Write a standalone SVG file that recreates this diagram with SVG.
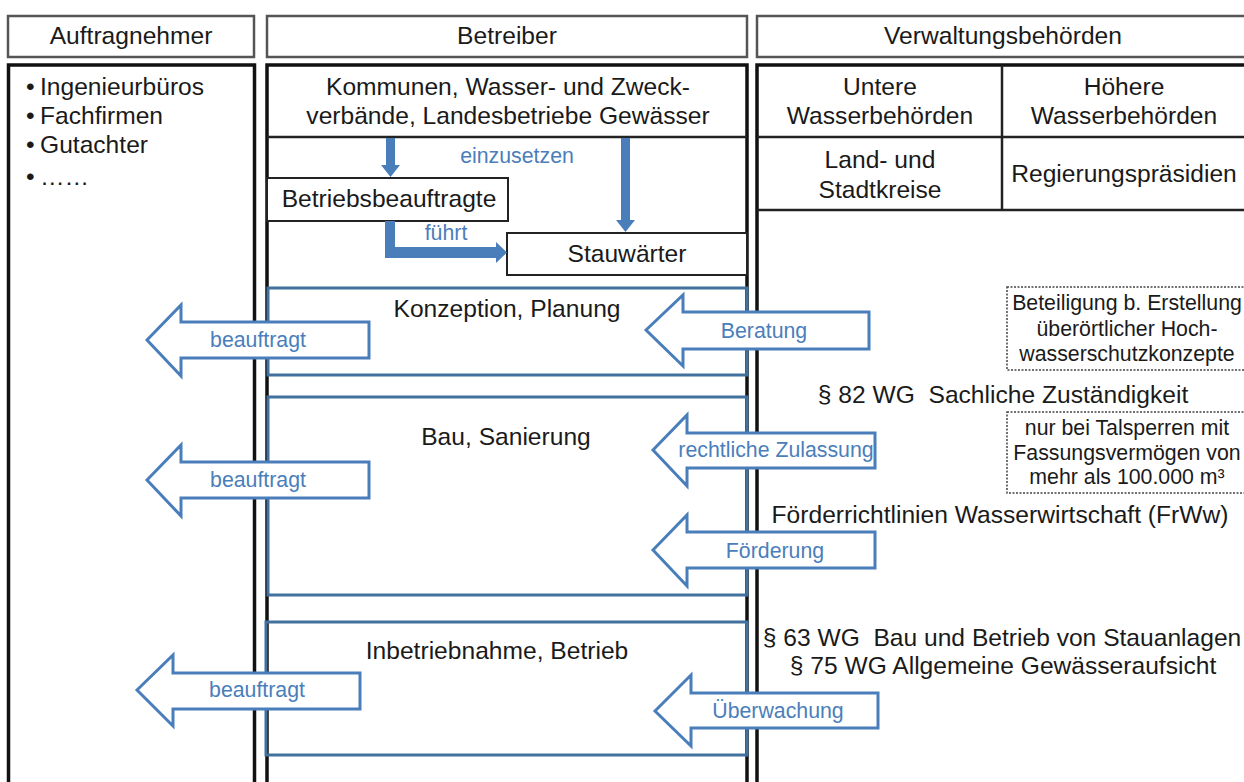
<svg xmlns="http://www.w3.org/2000/svg" width="1244" height="782" viewBox="0 0 1244 782">
<defs>
<style>
text{font-family:"Liberation Sans",Arial,Helvetica,sans-serif;fill:#1a1a1a;}
.t24{font-size:24.6px;}
.t21{font-size:21.3px;}
.mid{text-anchor:middle;}
.blue{fill:#4a7ebb;}
.hdr{fill:#fff;stroke:#555;stroke-width:2.5;}
.col{fill:#fff;stroke:#111;stroke-width:3.5;}
.line{stroke:#222;stroke-width:2.5;fill:none;}
.inner{fill:#fff;stroke:#222;stroke-width:2;}
.phase{fill:none;stroke:#41719c;stroke-width:3;}
.blk{fill:#fff;stroke:#4a7ebb;stroke-width:3;stroke-linejoin:miter;}
.thick{fill:#4a7ebb;stroke:none;}
.dash{fill:#fff;stroke:#444;stroke-width:1.5;stroke-dasharray:2 1.5;}
</style>
</defs>
<rect x="0" y="0" width="1244" height="782" fill="#fff"/>

<g id="header-auftragnehmer">
<rect class="hdr" x="8" y="16" width="246" height="41"/>
<text class="t24 mid" x="131" y="44">Auftragnehmer</text>
</g>
<g id="header-betreiber">
<rect class="hdr" x="267" y="16" width="480" height="41"/>
<text class="t24 mid" x="507" y="44">Betreiber</text>
</g>
<g id="header-verwaltung">
<rect class="hdr" x="757" y="16" width="500" height="41"/>
<text class="t24 mid" x="1003" y="44">Verwaltungsbehörden</text>
</g>

<g id="col-auftragnehmer">
<rect class="col" x="8.5" y="65" width="246" height="740"/>
<text class="t24" y="95"><tspan x="26">•</tspan><tspan x="40">Ingenieurbüros</tspan></text>
<text class="t24" y="124"><tspan x="26">•</tspan><tspan x="40">Fachfirmen</tspan></text>
<text class="t24" y="153"><tspan x="26">•</tspan><tspan x="40">Gutachter</tspan></text>
<text class="t24" y="185"><tspan x="26">•</tspan><tspan x="40">……</tspan></text>
</g>

<g id="col-betreiber">
<rect class="col" x="267" y="65" width="480" height="740"/>
<line class="line" x1="267" y1="137" x2="747" y2="137"/>
<text class="t24 mid" x="508" y="95">Kommunen, Wasser- und Zweck-</text>
<text class="t24 mid" x="508" y="124">verbände, Landesbetriebe Gewässer</text>
</g>

<g id="col-verwaltung">
<rect class="col" x="757" y="65" width="500" height="740"/>
<line class="line" x1="1002" y1="65" x2="1002" y2="210"/>
<line class="line" x1="757" y1="137" x2="1244" y2="137"/>
<line class="line" x1="757" y1="210" x2="1244" y2="210"/>
</g>

<g id="untere-wasserbehoerden">
<text class="t24 mid" x="880" y="95">Untere</text>
<text class="t24 mid" x="880" y="124">Wasserbehörden</text>
</g>
<g id="hoehere-wasserbehoerden">
<text class="t24 mid" x="1124" y="95">Höhere</text>
<text class="t24 mid" x="1124" y="124">Wasserbehörden</text>
</g>
<g id="land-stadtkreise">
<text class="t24 mid" x="880" y="168">Land- und</text>
<text class="t24 mid" x="880" y="198">Stadtkreise</text>
</g>
<g id="regierungspraesidien">
<text class="t24 mid" x="1124" y="182">Regierungspräsidien</text>
</g>

<g id="betriebsbeauftragte">
<rect class="inner" x="267" y="178" width="241" height="43"/>
<text class="t24 mid" x="389" y="207">Betriebsbeauftragte</text>
</g>
<g id="stauwaerter">
<rect class="inner" x="507" y="233" width="240" height="42"/>
<text class="t24 mid" x="627" y="262">Stauwärter</text>
</g>

<g id="phase-konzeption">
<rect class="phase" x="268" y="288" width="479" height="87"/>
<text class="t24 mid" x="507" y="317">Konzeption, Planung</text>
</g>
<g id="phase-bau">
<rect class="phase" x="268" y="397" width="479" height="198"/>
<text class="t24 mid" x="506" y="445">Bau, Sanierung</text>
</g>
<g id="phase-betrieb">
<rect class="phase" x="266" y="622" width="481" height="133"/>
<text class="t24 mid" x="497" y="659">Inbetriebnahme, Betrieb</text>
</g>

<g id="note-hochwasser">
<rect class="dash" x="1007" y="287" width="245" height="83"/>
<text class="t21 mid" x="1127" y="310">Beteiligung b. Erstellung</text>
<text class="t21 mid" x="1127" y="336">überörtlicher Hoch-</text>
<text class="t21 mid" x="1127" y="361">wasserschutzkonzepte</text>
</g>
<g id="law-82">
<text class="t24 mid" x="1003" y="403">§ 82 WG&#160; Sachliche Zuständigkeit</text>
</g>
<g id="note-talsperren">
<rect class="dash" x="1007" y="412" width="245" height="81"/>
<text class="t21 mid" x="1127" y="435">nur bei Talsperren mit</text>
<text class="t21 mid" x="1127" y="460">Fassungsvermögen von</text>
<text class="t21 mid" x="1127" y="484">mehr als 100.000 m³</text>
</g>
<g id="law-frww">
<text class="t24 mid" x="1000" y="523">Förderrichtlinien Wasserwirtschaft (FrWw)</text>
</g>
<g id="law-63-75">
<text class="t24 mid" x="1002" y="646">§ 63 WG&#160; Bau und Betrieb von Stauanlagen</text>
<text class="t24 mid" x="1003" y="674">§ 75 WG Allgemeine Gewässeraufsicht</text>
</g>

<g id="connectors">
<path class="thick" d="M386,138 H395 V165 H400 L390.5,177 L381,165 H386 Z"/>
<path class="thick" d="M621,138 H630 V220 H635 L625.5,232 L616,220 H621 Z"/>
<path class="thick" d="M385,221 H395 V247 H496 V242 L507,252.5 L496,263 V258 H385 Z"/>
<text class="t21 mid blue" x="517" y="163">einzusetzen</text>
<text class="t21 mid blue" x="446" y="240">führt</text>

<path class="blk" d="M147,340 L181,305 L181,322 L369,322 L369,358 L181,358 L181,376 Z"/>
<text class="t21 mid blue" x="258" y="347">beauftragt</text>
<path class="blk" d="M147,480 L181,445 L181,462 L369,462 L369,498 L181,498 L181,516 Z"/>
<text class="t21 mid blue" x="258" y="487">beauftragt</text>
<path class="blk" d="M137,690 L173,655 L173,673 L360,673 L360,709 L173,709 L173,726 Z"/>
<text class="t21 mid blue" x="257" y="697">beauftragt</text>

<path class="blk" d="M646,330 L683,295 L683,312 L869,312 L869,349 L683,349 L683,366 Z"/>
<text class="t21 mid blue" x="764" y="338">Beratung</text>
<path class="blk" d="M653,450 L687,415 L687,433 L875,433 L875,468 L687,468 L687,486 Z"/>
<text class="t21 mid blue" x="776" y="457">rechtliche Zulassung</text>
<path class="blk" d="M653,550 L687,515 L687,532 L875,532 L875,568 L687,568 L687,586 Z"/>
<text class="t21 mid blue" x="775" y="558">Förderung</text>
<path class="blk" d="M655,711 L691,675 L691,693 L878,693 L878,728 L691,728 L691,746 Z"/>
<text class="t21 mid blue" x="778" y="718">Überwachung</text>
</g>
</svg>
